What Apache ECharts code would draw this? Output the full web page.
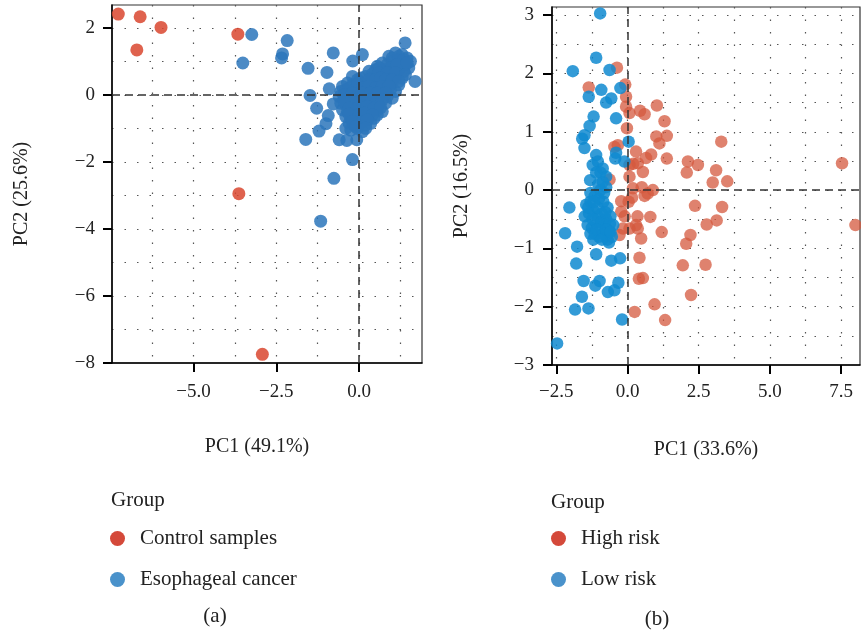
<!DOCTYPE html>
<html>
<head>
<meta charset="utf-8">
<script src="https://cdn.jsdelivr.net/npm/echarts@6/dist/echarts.min.js"></script>
<style>
  html, body { margin: 0; padding: 0; background: #fff; }
  #chart { width: 861px; height: 637px; }
</style>
</head>
<body>
<div id="chart"></div>
<script>
// panel (a): PCA of control vs esophageal cancer
var ctrlA = [[-7.27, 2.41], [-6.61, 2.33], [-5.98, 2.01], [-6.71, 1.34], [-3.66, 1.81], [-3.63, -2.95], [-2.92, -7.74]];
var escaA = [
  [-3.24, 1.80], [-3.51, 0.95], [-2.17, 1.62], [-2.31, 1.22], [-2.34, 1.10], [-0.78, 1.25], [-0.19, 1.01], [0.10, 1.20],
  [-1.54, 0.79], [-0.97, 0.67], [1.39, 1.55], [1.69, 0.40], [-1.48, -0.02], [-0.90, 0.18], [-1.28, -0.40], [-0.93, -0.62],
  [-1.00, -0.86], [-1.21, -1.08], [-1.61, -1.33], [-0.60, -1.34], [-0.37, -1.36], [-0.07, -1.34], [-0.20, -1.93],
  [-0.76, -2.49], [-1.16, -3.77], [-0.78, -0.27],
  [0.9, 1.15], [1.1, 1.25], [1.3, 1.2], [1.45, 1.1], [1.2, 1.05], [1.0, 1.0],
  [0.55, 0.85], [0.7, 0.95], [0.85, 0.9], [1.05, 0.85], [1.25, 0.95], [1.4, 0.9], [1.55, 1.0],
  [0.3, 0.7], [0.5, 0.75], [0.65, 0.7], [0.8, 0.75], [1.0, 0.7], [1.2, 0.75], [1.35, 0.7], [1.5, 0.8],
  [-0.2, 0.55], [0.05, 0.5], [0.2, 0.55], [0.4, 0.5], [0.55, 0.6], [0.75, 0.55], [0.9, 0.5], [1.1, 0.55], [1.3, 0.5],
  [-0.5, 0.25], [-0.35, 0.35], [-0.2, 0.3], [0.0, 0.4], [0.15, 0.3], [0.35, 0.35], [0.5, 0.3], [0.7, 0.4], [0.85, 0.3], [1.0, 0.35], [1.2, 0.3],
  [-0.55, 0.1], [-0.4, 0.15], [-0.25, 0.1], [-0.1, 0.2], [0.05, 0.1], [0.25, 0.15], [0.4, 0.1], [0.6, 0.2], [0.75, 0.1], [0.95, 0.15], [1.1, 0.1],
  [-0.6, -0.05], [-0.45, -0.1], [-0.3, 0.0], [-0.15, -0.05], [0.0, -0.1], [0.15, 0.0], [0.3, -0.05], [0.5, -0.1], [0.65, 0.0], [0.85, -0.05], [1.0, -0.1],
  [-0.55, -0.25], [-0.4, -0.3], [-0.2, -0.25], [-0.05, -0.3], [0.1, -0.25], [0.3, -0.3], [0.45, -0.25], [0.6, -0.3], [0.8, -0.25],
  [-0.5, -0.45], [-0.35, -0.5], [-0.15, -0.45], [0.0, -0.5], [0.2, -0.45], [0.35, -0.5], [0.55, -0.45], [0.7, -0.5],
  [-0.4, -0.65], [-0.25, -0.7], [-0.1, -0.65], [0.05, -0.7], [0.25, -0.65], [0.45, -0.7], [0.55, -0.6],
  [-0.3, -0.85], [-0.15, -0.9], [0.0, -0.85], [0.2, -0.9], [0.35, -0.85],
  [-0.4, -1.0], [-0.25, -1.05], [-0.05, -1.0], [0.1, -1.1],
  [1.0, 1.1], [1.2, 1.15], [1.35, 1.05], [0.95, 0.8], [1.15, 0.9], [1.45, 0.95], [0.6, 0.8], [0.4, 0.62], [0.6, 0.65],
  [0.85, 0.65], [1.1, 0.65], [1.4, 0.6], [-0.05, 0.45], [0.3, 0.45], [0.5, 0.45], [0.65, 0.5], [0.8, 0.45], [1.0, 0.45],
  [1.2, 0.4], [-0.3, 0.2], [-0.05, 0.3], [0.1, 0.2], [0.3, 0.25], [0.5, 0.2], [0.7, 0.25], [0.9, 0.25], [-0.45, 0.0],
  [-0.2, 0.05], [0.1, 0.05], [0.35, 0.05], [0.55, 0.05], [0.8, 0.05], [-0.45, -0.2], [-0.1, -0.15], [0.2, -0.15],
  [0.4, -0.15], [0.7, -0.15], [-0.3, -0.4], [-0.05, -0.4], [0.25, -0.35], [0.45, -0.4], [0.65, -0.38], [-0.3, -0.58],
  [0.0, -0.6], [0.15, -0.55], [0.4, -0.6], [-0.2, -0.8], [0.1, -0.8], [0.25, -0.75], [-0.1, -0.95], [0.2, -1.0]
];

// panel (b): high vs low risk
var highB = [
  [-0.37, 2.10], [-1.36, 1.76], [-0.08, 1.81], [-0.05, 1.60], [-0.05, 1.43], [0.07, 1.32], [0.44, 1.36], [0.60, 1.30],
  [1.03, 1.45], [1.30, 1.18], [-0.02, 1.06], [1.01, 0.92], [1.38, 0.93], [1.12, 0.80], [3.29, 0.83], [-0.46, 0.74],
  [-0.34, 0.77], [0.30, 0.66], [0.83, 0.61], [1.38, 0.54], [0.07, 0.43], [0.36, 0.46], [0.54, 0.31], [2.12, 0.49],
  [2.47, 0.43], [2.08, 0.30], [3.11, 0.34], [2.99, 0.13], [3.50, 0.15], [7.53, 0.46], [0.07, 0.23], [-0.63, 0.18],
  [0.19, 0.03], [0.60, -0.10], [0.89, 0.00], [0.71, -0.06], [-0.22, -0.19], [0.16, -0.13], [-0.22, -0.37], [0.04, -0.20],
  [2.37, -0.27], [3.32, -0.29], [0.80, -0.46], [2.78, -0.59], [3.13, -0.52], [8.00, -0.60], [-0.28, -0.77], [0.07, -0.66],
  [0.30, -0.60], [0.36, -0.66], [1.20, -0.72], [0.48, -0.83], [2.21, -0.77], [2.06, -0.92], [0.42, -1.16], [1.94, -1.29],
  [2.74, -1.28], [0.54, -1.51], [0.40, -1.52], [2.23, -1.80], [0.95, -1.96], [0.25, -2.09], [1.32, -2.23], [-0.16, -0.66],
  [0.50, 0.05], [0.35, -0.45], [0.20, 0.45], [0.65, 0.55], [-0.10, -0.45]
];
var lowB = [
  [-0.96, 3.03], [-1.10, 2.27], [-1.92, 2.04], [-0.63, 2.06], [-1.36, 1.60], [-0.92, 1.72], [-0.25, 1.75], [-0.57, 1.57],
  [-0.75, 1.50], [-0.40, 1.23], [-1.19, 1.26], [-1.33, 1.10], [-1.51, 0.94], [-1.59, 0.88], [-1.51, 0.72], [0.04, 0.83],
  [-0.40, 0.64], [-0.43, 0.54], [-0.11, 0.49], [-1.10, 0.60], [-1.04, 0.49], [-1.22, 0.43], [-0.87, 0.37], [-0.75, 0.23],
  [-0.87, 0.14], [-1.31, 0.17], [-2.04, -0.30], [-2.19, -0.74], [-1.77, -0.97], [-1.80, -1.26], [-1.10, -1.10],
  [-0.65, -0.90], [-0.57, -1.21], [-0.26, -1.17], [-1.54, -1.56], [-1.13, -1.64], [-0.98, -1.56], [-0.69, -1.75],
  [-0.46, -1.72], [-0.32, -1.59], [-1.60, -1.83], [-1.84, -2.05], [-1.37, -2.03], [-0.19, -2.22], [-2.47, -2.63],
  [-1.45, -0.25], [-1.3, -0.2], [-1.15, -0.1], [-1.0, -0.15], [-0.85, -0.2], [-0.7, -0.3], [-1.5, -0.45], [-1.35, -0.4],
  [-1.2, -0.35], [-1.05, -0.45], [-0.9, -0.4], [-0.75, -0.5], [-0.6, -0.45], [-1.4, -0.6], [-1.25, -0.65], [-1.1, -0.55],
  [-0.95, -0.65], [-0.8, -0.6], [-0.65, -0.7], [-0.5, -0.6], [-1.15, -0.75], [-1.0, -0.8], [-0.85, -0.75], [-0.7, -0.85],
  [-0.55, -0.8], [-1.3, -0.05], [-0.95, 0.0], [-1.2, -0.85], [-0.95, 0.3], [-1.1, 0.3], [-0.75, 0.05],
  [-1.38, -0.3], [-1.22, -0.5], [-1.05, -0.3], [-0.92, -0.55], [-0.78, -0.38], [-0.62, -0.58], [-1.3, -0.75],
  [-1.08, -0.68], [-0.9, -0.85], [-0.75, -0.68], [-0.6, -0.72], [-1.18, -0.2], [-0.82, -0.05], [-1.02, 0.1]
];

// labelled ticks
var xTicksA = [-5, -2.5, 0];
var yTicksA = [-8, -6, -4, -2, 0, 2];
var xTicksB = [-2.5, 0, 2.5, 5, 7.5];
var yTicksB = [-3, -2, -1, 0, 1, 2, 3];
// dotted grid lines (major + minor)
var xGridA = [-6.25, -5, -3.75, -2.5, -1.25, 0, 1.25];
var yGridA = [-7, -6, -5, -4, -3, -2, -1, 0, 1, 2];
var xGridB = [-2.5, -1.25, 0, 1.25, 2.5, 3.75, 5, 6.25, 7.5];
var yGridB = [-2.5, -2, -1.5, -1, -0.5, 0, 0.5, 1, 1.5, 2, 2.5, 3];

var serif = '"Liberation Serif", "Times New Roman", serif';
var ink = '#222';

function fmt1(v) { return (v < 0 ? '\u2212' : '') + Math.abs(v).toFixed(1); }
function fmt0(v) { return (v < 0 ? '\u2212' : '') + Math.abs(v); }

function axis(gi, min, max, ticks, fmt, name, gap, pad, margin, rot) {
  return {
    type: 'value', gridIndex: gi, min: min, max: max,
    name: name, nameLocation: 'middle', nameGap: gap, nameRotate: rot,
    nameTextStyle: { fontFamily: serif, fontSize: 20, color: ink, padding: pad },
    axisLine: { show: true, onZero: false, lineStyle: { color: '#000', width: 1.5 } },
    axisTick: { show: true, customValues: ticks, length: 9, lineStyle: { color: '#000', width: 2 } },
    axisLabel: { customValues: ticks, formatter: fmt, margin: margin, fontFamily: serif, fontSize: 19, color: ink },
    splitLine: { show: false }
  };
}

// hidden axis that only carries the dotted grid
function gridAxis(gi, min, max, lines) {
  return {
    type: 'value', gridIndex: gi, min: min, max: max, silent: true,
    axisLine: { show: false },
    axisTick: { show: false, customValues: lines },
    axisLabel: { show: false, customValues: lines },
    splitLine: { show: true, lineStyle: { type: [1.5, 11], color: '#555', width: 1.2 } }
  };
}

function refLines(gi) {
  return {
    type: 'scatter', xAxisIndex: gi, yAxisIndex: gi, data: [], silent: true, z: 1,
    markLine: {
      symbol: 'none', silent: true, label: { show: false },
      lineStyle: { type: [8, 5], color: '#333', width: 1.5 },
      data: [{ xAxis: 0 }, { yAxis: 0 }]
    }
  };
}

function legendFor(names, colors, left) {
  return {
    data: names.map(function (n, i) { return { name: n, itemStyle: { color: colors[i], opacity: 1 } }; }),
    orient: 'vertical', left: left, top: 528, padding: 0,
    itemWidth: 15, itemHeight: 15, itemGap: 20, icon: 'circle', selectedMode: false,
    textStyle: { fontFamily: serif, fontSize: 21, color: ink, padding: [0, 0, 0, 10] }
  };
}

var chart = echarts.init(document.getElementById('chart'));
chart.setOption({
  animation: false,
  backgroundColor: '#fff',
  grid: [
    { left: 112, top: 5, width: 310, height: 358, show: true, borderColor: '#333', borderWidth: 1.2 },
    { left: 552, top: 7, width: 308, height: 358, show: true, borderColor: '#333', borderWidth: 1.2 }
  ],
  xAxis: [
    axis(0, -7.46, 1.9, xTicksA, fmt1, 'PC1 (49.1%)', 74, [0, 20, 0, 0], 20, 0),
    axis(1, -2.65, 8.16, xTicksB, fmt1, 'PC1 (33.6%)', 75, 0, 18, 0),
    gridAxis(0, -7.46, 1.9, xGridA),
    gridAxis(1, -2.65, 8.16, xGridB)
  ],
  yAxis: [
    axis(0, -8, 2.68, yTicksA, fmt0, 'PC2 (25.6%)', 80, [0, 20, 0, 0], 17, 90),
    axis(1, -3, 3.14, yTicksB, fmt0, 'PC2 (16.5%)', 80, 0, 18, 90),
    gridAxis(0, -8, 2.68, yGridA),
    gridAxis(1, -3, 3.14, yGridB)
  ],
  legend: [
    legendFor(['Control samples', 'Esophageal cancer'], ['#d4493a', '#4a92cb'], 110),
    legendFor(['High risk', 'Low risk'], ['#d4493a', '#4a92cb'], 551)
  ],
  graphic: [
    { type: 'text', x: 111, y: 500, style: { text: 'Group', fontFamily: serif, fontSize: 21, fill: ink, verticalAlign: 'middle' } },
    { type: 'text', x: 551, y: 502, style: { text: 'Group', fontFamily: serif, fontSize: 21, fill: ink, verticalAlign: 'middle' } },
    { type: 'text', x: 215, y: 616, style: { text: '(a)', fontFamily: serif, fontSize: 21, fill: ink, align: 'center', verticalAlign: 'middle' } },
    { type: 'text', x: 657, y: 619, style: { text: '(b)', fontFamily: serif, fontSize: 21, fill: ink, align: 'center', verticalAlign: 'middle' } }
  ],
  series: [
    refLines(0),
    refLines(1),
    { name: 'Control samples', type: 'scatter', xAxisIndex: 0, yAxisIndex: 0, data: ctrlA, symbolSize: 13, z: 2,
      itemStyle: { color: '#d9472f', opacity: 0.85 } },
    { name: 'Esophageal cancer', type: 'scatter', xAxisIndex: 0, yAxisIndex: 0, data: escaA, symbolSize: 13, z: 2,
      itemStyle: { color: '#2b76bb', opacity: 0.85 } },
    { name: 'High risk', type: 'scatter', xAxisIndex: 1, yAxisIndex: 1, data: highB, symbolSize: 12.5, z: 2,
      itemStyle: { color: '#d4583e', opacity: 0.75 } },
    { name: 'Low risk', type: 'scatter', xAxisIndex: 1, yAxisIndex: 1, data: lowB, symbolSize: 12.5, z: 2,
      itemStyle: { color: '#0f8ad0', opacity: 0.85 } }
  ]
});
</script>
</body>
</html>
